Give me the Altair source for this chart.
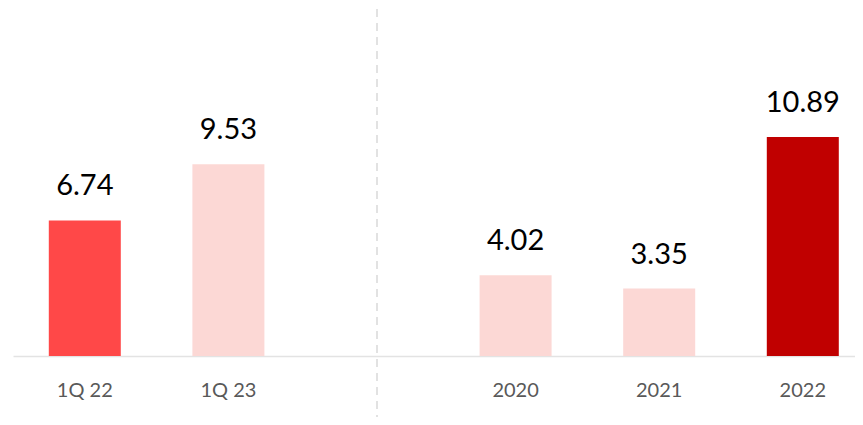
import altair as alt
import pandas as pd

categories = ["1Q 22", "1Q 23", "2020", "2021", "2022"]
values = [6.74, 9.53, 4.02, 3.35, 10.89]
colors = ["#FF4848", "#FCD8D5", "#FCD8D5", "#FCD8D5", "#C00000"]
gap = " "
domain = ["1Q 22", "1Q 23", gap, "2020", "2021", "2022"]

df = pd.DataFrame({"cat": categories, "value": values, "color": colors,
                   "label": [f"{v:.2f}" for v in values]})
sep = pd.DataFrame({"cat": [gap]})

W, H = 842, 347
xscale = alt.Scale(domain=domain, paddingInner=0.5, paddingOuter=0.25, range=[0, 861.6])
x = alt.X("cat:N", sort=domain, scale=xscale,
          axis=alt.Axis(title=None, labelAngle=0, labelAlign="center", labelFont="Lato",
                        labelFontSize=20, labelColor="#595959", labelPadding=40,
                        labelBaseline="alphabetic", ticks=False, tickSize=0,
                        domainColor="#E3E3E3", domainWidth=1.5, grid=False))
y = alt.Y("value:Q", scale=alt.Scale(domain=[0, 17.25], nice=False, zero=True),
          axis=None)

bars = alt.Chart(df).mark_bar(size=72).encode(
    x=x, y=y, color=alt.Color("color:N", scale=None))

labels = alt.Chart(df).mark_text(dy=-25, baseline="alphabetic", font="Lato",
                                 fontSize=29, color="#000000").encode(
    x=alt.X("cat:N", sort=domain, scale=xscale), y=y, text="label:N")

rule = alt.Chart(sep).mark_rule(color="#D9D9D9", strokeWidth=1.5, strokeDash=[8, 6],
                                xOffset=5).encode(
    x=alt.X("cat:N", sort=domain, scale=xscale),
    y=alt.value(0), y2=alt.value(H + 64))

chart = alt.layer(rule, bars, labels).properties(
    width=W, height=H,
    autosize=alt.AutoSizeParams(type="none"),
    padding={"left": 5, "top": 1, "right": 0, "bottom": 61},
).configure_view(stroke=None)

chart.save("out.html", embed_options={"renderer": "svg", "actions": False})
